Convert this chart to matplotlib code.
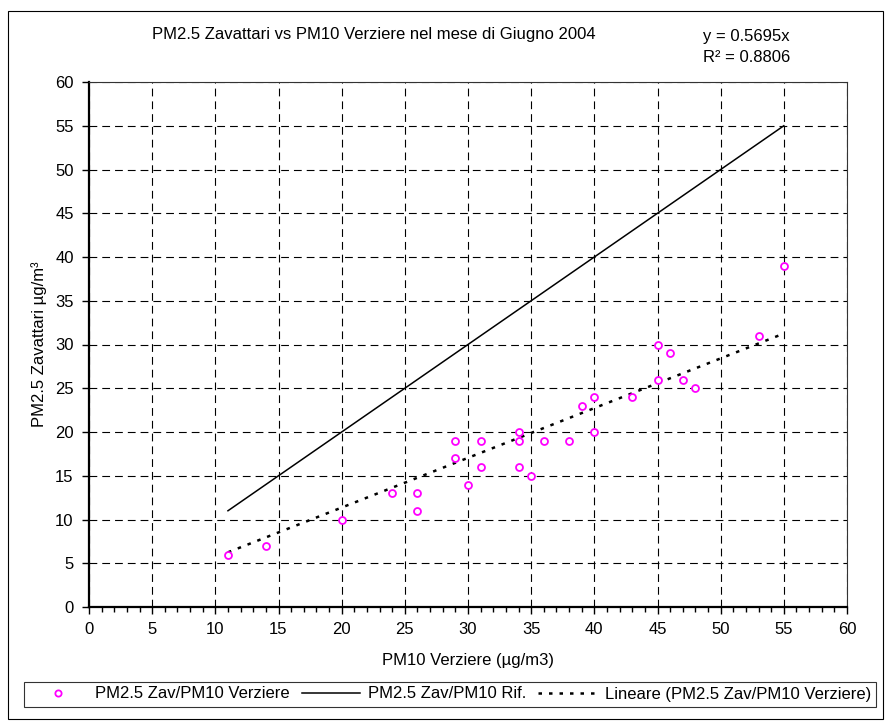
import numpy as np
import matplotlib
matplotlib.use("Agg")
from matplotlib import pyplot as plt
from matplotlib.patches import Rectangle
from matplotlib.ticker import MultipleLocator

plt.rcParams['font.family'] = ['Liberation Sans', 'DejaVu Sans']
plt.rcParams['font.size'] = 12

# PM10 Verziere vs PM2.5 Zavattari, giugno 2004
pm10 = [11, 14, 20, 24, 26, 26, 29, 29, 30, 31, 31, 34, 34, 34, 35, 36, 38,
        39, 40, 40, 43, 45, 45, 46, 47, 48, 53, 55]
pm25 = [6, 7, 10, 13, 13, 11, 19, 17, 14, 19, 16, 20, 19, 16, 15, 19, 19,
        23, 24, 20, 24, 30, 26, 29, 26, 25, 31, 39]

title = "PM2.5 Zavattari vs PM10 Verziere nel mese di Giugno 2004"
eq_text = "y = 0.5695x\nR² = 0.8806"

x = np.array(pm10, dtype=float)
y = np.array(pm25, dtype=float)

# linear fit through origin
slope = np.sum(x * y) / np.sum(x * x)
xr = np.array([x.min(), x.max()])

fig = plt.figure(figsize=(8.91, 7.28), dpi=100)
fig.patches.append(Rectangle((8 / 891, 9 / 728), 875 / 891, 708 / 728,
                             transform=fig.transFigure, fill=False,
                             edgecolor='black', linewidth=0.8))

ax = fig.add_axes([89 / 891, 1 - 607 / 728, (847 - 89) / 891, (607 - 82) / 728])

ax.plot(x, y, 'o', ls='none', ms=5, mec='#FF00FF', mfc='white', mew=1.3,
        label='PM2.5 Zav/PM10 Verziere', zorder=4)
ax.plot(xr, xr, '-', color='black', lw=1.1, label='PM2.5 Zav/PM10 Rif.', zorder=3)
ax.plot(xr, slope * xr, color='black', lw=1.8, ls=(0, (1.4, 2.8)),
        label='Lineare (PM2.5 Zav/PM10 Verziere)', zorder=3)

ax.set_xlim(0, 60)
ax.set_ylim(0, 60)
ax.xaxis.set_major_locator(MultipleLocator(5))
ax.xaxis.set_minor_locator(MultipleLocator(1))
ax.yaxis.set_major_locator(MultipleLocator(5))
ax.grid(True, which='major', color='black', lw=0.8, ls=(0, (7, 4.5)))
ax.set_axisbelow(True)

for s in ['left', 'bottom']:
    ax.spines[s].set_linewidth(1.6)
for s in ['top', 'right']:
    ax.spines[s].set_linewidth(0.8)
    ax.spines[s].set_color('#333333')

ax.tick_params(axis='both', which='major', direction='out', length=5,
               width=1, labelsize=12, pad=6)
ax.tick_params(axis='x', which='minor', direction='out', length=3.5, width=1)

ax.set_xlabel("PM10 Verziere (µg/m3)", fontsize=12, labelpad=11)
ax.set_ylabel("PM2.5 Zavattari µg/m³", fontsize=12, labelpad=6)

fig.text(374 / 891, 1 - 34 / 728, title, ha='center', va='center', fontsize=12)
fig.text(703 / 891, 1 - 47 / 728, eq_text, ha='left', va='center',
         fontsize=12, linespacing=1.55)

handles, labels = ax.get_legend_handles_labels()
leg = fig.legend(handles, labels, loc='center', ncol=3,
                 bbox_to_anchor=(450 / 891, 1 - 694 / 728),
                 frameon=True, fancybox=False, edgecolor='black',
                 fontsize=12, handlelength=3.5, handletextpad=0.5,
                 columnspacing=0.7, borderpad=0.3, markerscale=0.9)
leg.get_frame().set_linewidth(0.8)

fig.savefig("out.png", dpi=100)
